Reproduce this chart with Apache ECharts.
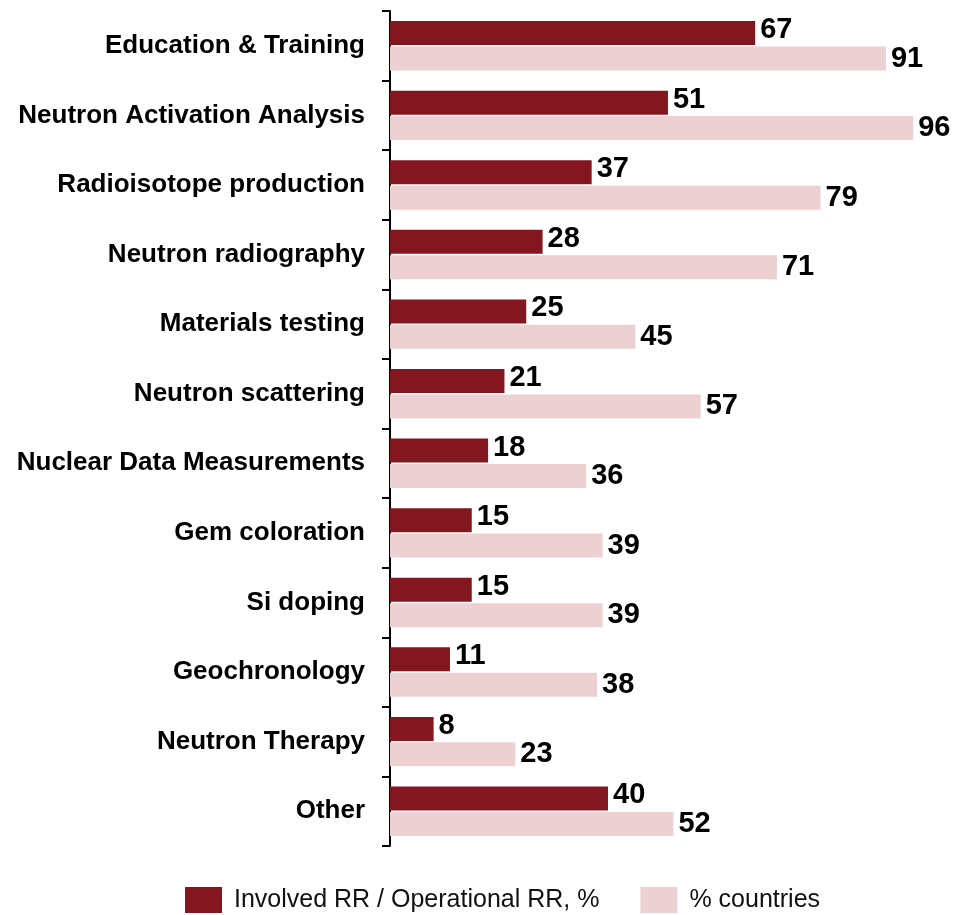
<!DOCTYPE html>
<html>
<head>
<meta charset="utf-8">
<style>
  html, body { margin: 0; padding: 0; background: #fff; }
  #chart { width: 959px; height: 915px; }
</style>
<script src="https://cdn.jsdelivr.net/npm/echarts@6/dist/echarts.min.js"></script>
</head>
<body>
<div id="chart"></div>
<script>
// Research reactor applications
const categories = [
  'Education & Training',
  'Neutron Activation Analysis',
  'Radioisotope production',
  'Neutron radiography',
  'Materials testing',
  'Neutron scattering',
  'Nuclear Data Measurements',
  'Gem coloration',
  'Si doping',
  'Geochronology',
  'Neutron Therapy',
  'Other'
];
const involvedRR = [67, 51, 37, 28, 25, 21, 18, 15, 15, 11, 8, 40];
const countriesPct = [91, 96, 79, 71, 45, 57, 36, 39, 39, 38, 23, 52];
const seriesNames = ['Involved RR / Operational RR, %', '% countries'];

const FONT = '"Liberation Sans", Arial, Helvetica, sans-serif';
const chart = echarts.init(document.getElementById('chart'));

const valueLabel = (dy) => ({
  show: true,
  position: 'right',
  distance: 5,
  offset: [0, dy],
  color: '#000',
  fontFamily: FONT,
  fontWeight: 'bold',
  fontSize: 29
});

chart.setOption({
  animation: false,
  backgroundColor: '#fff',
  grid: { left: 390, top: 11, width: 545, height: 835, containLabel: false },
  xAxis: {
    type: 'value',
    min: 0,
    max: 100,
    show: false
  },
  yAxis: {
    type: 'category',
    data: categories,
    inverse: true,
    axisLine: { show: true, lineStyle: { color: '#000', width: 2 } },
    axisTick: { show: true, length: 8, lineStyle: { color: '#000', width: 2 } },
    axisLabel: {
      margin: 25,
      color: '#000',
      fontFamily: FONT,
      fontWeight: 'bold',
      fontSize: 26
    },
    splitLine: { show: false }
  },
  legend: {
    bottom: 2,
    left: 185,
    padding: 0,
    itemWidth: 37,
    itemHeight: 26,
    itemGap: 41,
    icon: 'rect',
    textStyle: {
      color: '#111',
      fontFamily: FONT,
      fontSize: 25,
      padding: [0, 0, 0, 7]
    },
    data: seriesNames
  },
  series: [
    {
      name: seriesNames[0],
      type: 'bar',
      data: involvedRR,
      barWidth: 24,
      barGap: '6%',
      itemStyle: { color: '#83161F' },
      label: valueLabel(-3)
    },
    {
      name: seriesNames[1],
      type: 'bar',
      data: countriesPct,
      barWidth: 24,
      barGap: '6%',
      itemStyle: { color: '#EDD1D2' },
      label: valueLabel(0)
    }
  ]
});
</script>
</body>
</html>
